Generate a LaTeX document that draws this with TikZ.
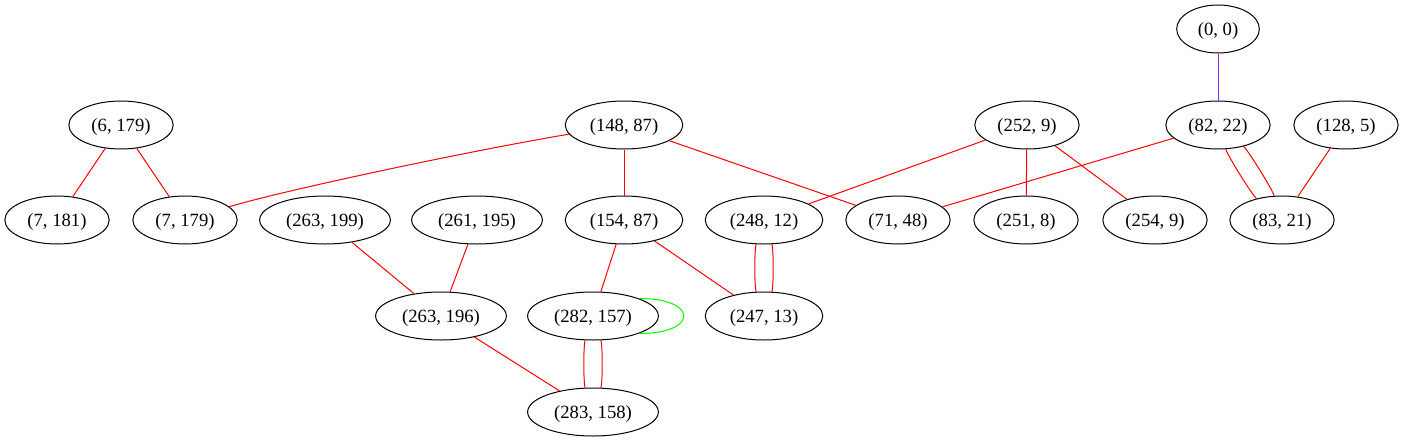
\documentclass[tikz,border=0pt]{standalone}
\usepackage{fontspec}
\setmainfont{Liberation Serif}
\usetikzlibrary{shapes.geometric}

\definecolor{gvred}{RGB}{255,0,0}
\definecolor{gvpurple}{RGB}{160,32,240}
\definecolor{gvgreen}{RGB}{0,255,0}

\begin{document}
\begin{tikzpicture}[x=0.75pt, y=-0.75pt, line width=0.75pt,
    pt/.style={ellipse, draw, inner xsep=5.5pt, inner ysep=3pt, minimum height=36pt,
               text height=12.4pt, text depth=3pt,
               font=\fontsize{14}{16}\selectfont},
    redge/.style={draw=gvred},
    pedge/.style={draw=gvpurple},
    gedge/.style={draw=gvgreen}]
    \useasboundingbox (0,0) rectangle (1404,443);

    % Nodes {rank 0 .. rank 4}
    \node [pt, minimum width=62pt] (p00) at (1218,29) {(0, 0)};

    \node [pt] (p6179)   at (121,125)  {(6, 179)};
    \node [pt] (p14887)  at (624,125)  {(148, 87)};
    \node [pt] (p2529)   at (1027,125) {(252, 9)};
    \node [pt] (p8222)   at (1218,125) {(82, 22)};
    \node [pt] (p1285)   at (1346,125) {(128, 5)};

    \node [pt] (p7181)   at (57,220)   {(7, 181)};
    \node [pt] (p7179)   at (185,220)  {(7, 179)};
    \node [pt] (p263199) at (325,220)  {(263, 199)};
    \node [pt] (p261195) at (477,220)  {(261, 195)};
    \node [pt] (p15487)  at (624,220)  {(154, 87)};
    \node [pt] (p24812)  at (764,220)  {(248, 12)};
    \node [pt] (p7148)   at (898,220)  {(71, 48)};
    \node [pt] (p2518)   at (1026,220) {(251, 8)};
    \node [pt] (p2549)   at (1155,220) {(254, 9)};
    \node [pt] (p8321)   at (1282,220) {(83, 21)};

    \node [pt] (p263196) at (441,316)  {(263, 196)};
    \node [pt] (p282157) at (593,316)  {(282, 157)};
    \node [pt] (p24713)  at (764,316)  {(247, 13)};

    \node [pt] (p283158) at (593,412)  {(283, 158)};

    % Paths
    \path [pedge] (p00) edge (p8222);
    \path [redge] (p8222) edge [bend left=16, looseness=0.3] (p8321);
    \path [redge] (p8222) edge [bend right=16, looseness=0.3] (p8321);
    \path [redge] (p8222) edge (p7148);
    \path [redge] (p1285) edge (p8321);
    \path [redge] (p6179) edge (p7181);
    \path [redge] (p6179) edge (p7179);
    \path [redge] (p14887) edge (p15487);
    \path [redge] (p14887) edge (p7148);
    \draw [gvred] (p14887) .. controls +(-150,25) and +(100,-30) .. (p7179);
    \path [redge] (p2529) edge (p24812);
    \path [redge] (p2529) edge (p2518);
    \path [redge] (p2529) edge (p2549);
    \path [redge] (p263199) edge (p263196);
    \path [redge] (p261195) edge (p263196);
    \path [redge] (p15487) edge (p282157);
    \path [redge] (p15487) edge (p24713);
    \path [redge] (p24812) edge [bend left=18, looseness=0.3] (p24713);
    \path [redge] (p24812) edge [bend right=18, looseness=0.3] (p24713);
    \path [redge] (p263196) edge (p283158);
    \path [redge] (p282157) edge [bend left=18, looseness=0.3] (p283158);
    \path [redge] (p282157) edge [bend right=18, looseness=0.3] (p283158);
    \draw [gvgreen] (p282157.21) .. controls +(60,0) and +(60,0) .. (p282157.-21);

\end{tikzpicture}
\end{document}
